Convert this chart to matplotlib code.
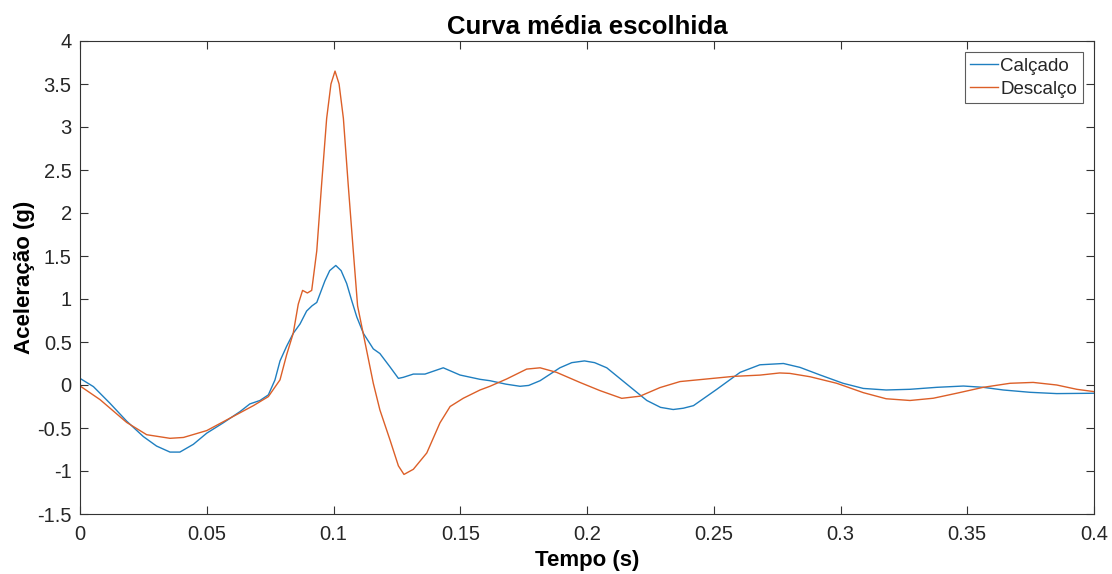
import matplotlib
matplotlib.use("Agg")
import matplotlib.pyplot as plt

# Time (s) and mean acceleration (g) for each condition
t_calcado = [0, 0.0053, 0.0118, 0.0184, 0.025, 0.0302, 0.0355, 0.0394, 0.0447, 0.05,
             0.0565, 0.0631, 0.067, 0.071, 0.0743, 0.0769, 0.0789, 0.0815, 0.0841, 0.0868,
             0.0894, 0.0915, 0.0934, 0.0966, 0.0985, 0.1009, 0.103, 0.1052, 0.1072, 0.1092,
             0.1118, 0.1157, 0.1183, 0.1223, 0.1256, 0.1275, 0.1315, 0.1361, 0.1433, 0.1499,
             0.1578, 0.1617, 0.168, 0.1736, 0.177, 0.1815, 0.1893, 0.194, 0.199, 0.203,
             0.2078, 0.2157, 0.2236, 0.229, 0.234, 0.238, 0.242, 0.2512, 0.2604, 0.2682,
             0.2775, 0.284, 0.292, 0.301, 0.309, 0.318, 0.3274, 0.338, 0.3485, 0.3563,
             0.3642, 0.3748, 0.3853, 0.4]
a_calcado = [0.077, -0.019, -0.212, -0.42, -0.60, -0.71, -0.78, -0.78, -0.69, -0.56,
             -0.44, -0.31, -0.22, -0.18, -0.115, 0.058, 0.28, 0.45, 0.60, 0.71,
             0.86, 0.92, 0.96, 1.21, 1.33, 1.39, 1.33, 1.18, 0.98, 0.79,
             0.60, 0.42, 0.366, 0.21, 0.077, 0.089, 0.127, 0.127, 0.20, 0.116,
             0.066, 0.05, 0.01, -0.015, -0.005, 0.05, 0.20, 0.26, 0.28, 0.26,
             0.20, 0.01, -0.18, -0.26, -0.285, -0.27, -0.24, -0.05, 0.147, 0.235,
             0.25, 0.205, 0.116, 0.02, -0.04, -0.058, -0.05, -0.027, -0.012, -0.027,
             -0.058, -0.085, -0.10, -0.096]

t_descalco = [0, 0.0079, 0.0184, 0.0263, 0.0355, 0.0408, 0.05, 0.0592, 0.0684, 0.0743,
              0.0789, 0.0815, 0.0841, 0.0861, 0.0878, 0.0897, 0.0914, 0.0934, 0.0953, 0.0973,
              0.099, 0.1006, 0.1022, 0.1039, 0.1058, 0.1078, 0.1095, 0.1124, 0.1157, 0.1183,
              0.1223, 0.1256, 0.1278, 0.1315, 0.1368, 0.142, 0.146, 0.1512, 0.1578, 0.1617,
              0.1683, 0.1762, 0.1815, 0.188, 0.1972, 0.2051, 0.2137, 0.2209, 0.2288, 0.2367,
              0.2472, 0.2577, 0.2682, 0.276, 0.28, 0.288, 0.2985, 0.309, 0.318, 0.3274,
              0.3366, 0.3458, 0.3563, 0.3669, 0.376, 0.3853, 0.3932, 0.4]
a_descalco = [-0.011, -0.17, -0.435, -0.578, -0.62, -0.61, -0.53, -0.385, -0.24, -0.135,
              0.06, 0.35, 0.60, 0.94, 1.10, 1.07, 1.10, 1.56, 2.33, 3.10,
              3.5, 3.65, 3.5, 3.10, 2.33, 1.56, 0.92, 0.50, 0.02, -0.29,
              -0.64, -0.94, -1.04, -0.98, -0.79, -0.44, -0.25, -0.154, -0.058, -0.015,
              0.07, 0.185, 0.20, 0.147, 0.03, -0.065, -0.155, -0.13, -0.03, 0.04,
              0.07, 0.10, 0.115, 0.14, 0.135, 0.096, 0.02, -0.089, -0.16, -0.18,
              -0.154, -0.096, -0.027, 0.02, 0.03, 0.0, -0.05, -0.077]

x_ticks = [0, 0.05, 0.1, 0.15, 0.2, 0.25, 0.3, 0.35, 0.4]
x_tick_labels = ["0", "0.05", "0.1", "0.15", "0.2", "0.25", "0.3", "0.35", "0.4"]
y_ticks = [-1.5, -1, -0.5, 0, 0.5, 1, 1.5, 2, 2.5, 3, 3.5, 4]
y_tick_labels = ["-1.5", "-1", "-0.5", "0", "0.5", "1", "1.5", "2", "2.5", "3", "3.5", "4"]

plt.rcParams["font.family"] = ["Liberation Sans", "DejaVu Sans"]
plt.rcParams["axes.unicode_minus"] = False

W, H = 1112, 574
fig = plt.figure(figsize=(W / 100, H / 100), dpi=100)
left, right, top, bottom = 80, 1094, 41, 514
ax = fig.add_axes([left / W, 1 - bottom / H, (right - left) / W, (bottom - top) / H])

axis_color = "#333333"
text_color = "#262626"
ax.plot(t_calcado, a_calcado, color="#1f7fc0", lw=1.0, label="Calçado")
ax.plot(t_descalco, a_descalco, color="#dc5f28", lw=1.0, label="Descalço")

ax.set_xlim(0, 0.4)
ax.set_ylim(-1.5, 4)
ax.set_xticks(x_ticks)
ax.set_xticklabels(x_tick_labels)
ax.set_yticks(y_ticks)
ax.set_yticklabels(y_tick_labels)
ax.tick_params(direction="in", length=6, width=0.8, color=axis_color,
               labelcolor=text_color, labelsize=14.5, top=True, right=True)
ax.tick_params(axis="x", pad=8)
ax.tick_params(axis="y", pad=6)
for s in ax.spines.values():
    s.set_color(axis_color)
    s.set_linewidth(0.8)

ax.set_title("Curva média escolhida", fontsize=18.5, fontweight="bold", pad=5,
             color="black")
ax.set_xlabel("Tempo (s)", fontsize=16, fontweight="bold", labelpad=4,
              color="black")
ax.set_ylabel("Aceleração (g)", fontsize=16, fontweight="bold", labelpad=1.5,
              color="black")

leg = ax.legend(loc="upper right", fontsize=13.5, frameon=True, fancybox=False,
                borderaxespad=0.6, handlelength=1.5, handletextpad=0.1,
                borderpad=0.3, labelspacing=0.3)
leg.get_frame().set_edgecolor(axis_color)
leg.get_frame().set_linewidth(0.8)
for txt in leg.get_texts():
    txt.set_color(text_color)

fig.savefig("out.png", dpi=100)
